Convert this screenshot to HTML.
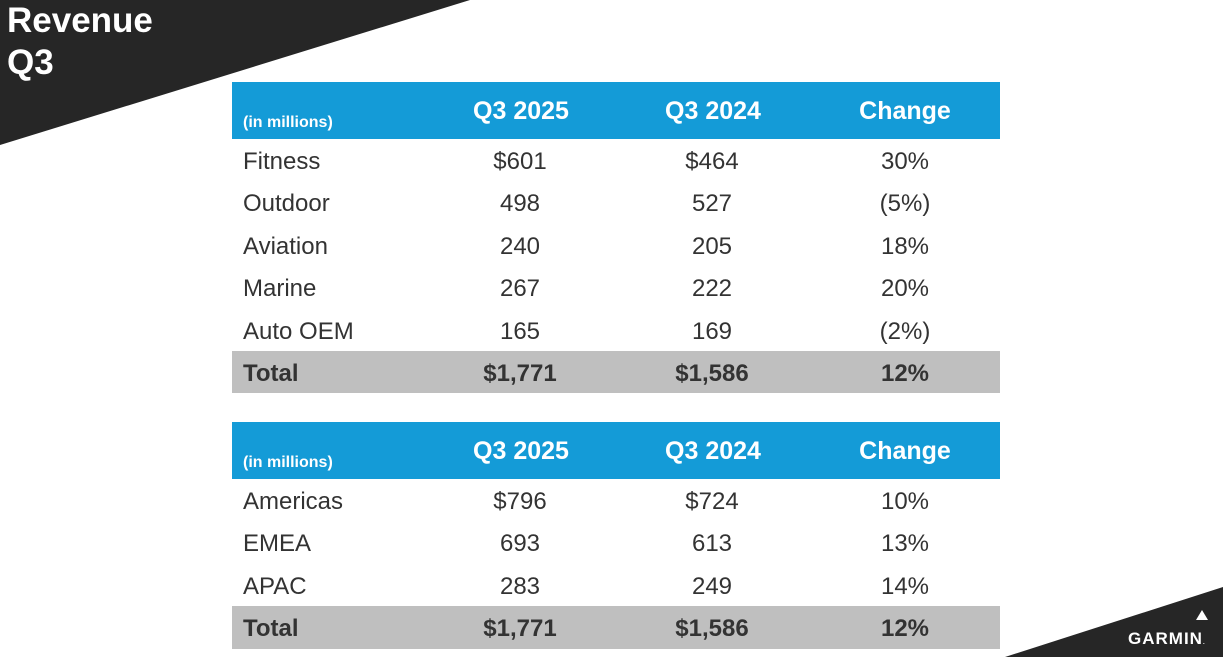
<!DOCTYPE html>
<html><head><meta charset="utf-8"><style>
body{margin:0;width:1223px;height:657px;overflow:hidden;background:#fff;font-family:"Liberation Sans",sans-serif;position:relative}
.abs{position:absolute}
.title{left:7px;top:0;color:#fff;font-weight:bold;font-size:35px;line-height:42px}
.tbl{position:absolute;left:232px;width:768px}
.hdr{background:#149bd7;height:57px;position:relative;color:#fff;font-weight:bold}
.row{height:42.4px;position:relative;color:#333;font-size:24px}
.tot{background:#bfbfbf;font-weight:bold}
.c{position:absolute;width:200px;text-align:center;transform:translateX(-100px)}
.l{position:absolute;left:11px}
</style></head><body>
<svg class="abs" style="left:0;top:0" width="1223" height="657">
<polygon points="0,0 470,0 0,145" fill="#262626"/>
<polygon points="1005,657 1223,587 1223,657" fill="#262626"/>
<polygon points="1196,620 1202,610 1208,620" fill="#fff"/>
</svg>
<div class="abs title">Revenue<br>Q3</div>
<div class="abs" style="left:1128px;top:629px;color:#fff;font-weight:bold;font-size:17px;letter-spacing:1px">GARMIN<span style="font-size:6px">.</span></div>

<div class="tbl" style="top:82px">
<div class="hdr">
<span class="l" style="top:32px;font-size:16px">(in millions)</span>
<span class="c" style="left:289px;top:15px;font-size:25px">Q3 2025</span>
<span class="c" style="left:481px;top:15px;font-size:25px">Q3 2024</span>
<span class="c" style="left:673px;top:15px;font-size:25px">Change</span></div>
<div id="t1"></div>
</div>
<div class="tbl" style="top:422px">
<div class="hdr">
<span class="l" style="top:32px;font-size:16px">(in millions)</span>
<span class="c" style="left:289px;top:15px;font-size:25px">Q3 2025</span>
<span class="c" style="left:481px;top:15px;font-size:25px">Q3 2024</span>
<span class="c" style="left:673px;top:15px;font-size:25px">Change</span></div>
<div id="t2"></div>
</div>
<script>
const segments=["Fitness","Outdoor","Aviation","Marine","Auto OEM","Total"];
const seg2025=["$601","498","240","267","165","$1,771"];
const seg2024=["$464","527","205","222","169","$1,586"];
const segChange=["30%","(5%)","18%","20%","(2%)","12%"];
const regions=["Americas","EMEA","APAC","Total"];
const reg2025=["$796","693","283","$1,771"];
const reg2024=["$724","613","249","$1,586"];
const regChange=["10%","13%","14%","12%"];
function build(id,labels,a,b,c){
  const host=document.getElementById(id);
  labels.forEach((lab,i)=>{
    const r=document.createElement('div');
    r.className='row'+(lab==='Total'?' tot':'');
    
    
    r.innerHTML='<span class="l" style="top:9px">'+lab+'</span>'+
      '<span class="c" style="left:288px;top:9px">'+a[i]+'</span>'+
      '<span class="c" style="left:480px;top:9px">'+b[i]+'</span>'+
      '<span class="c" style="left:673px;top:9px">'+c[i]+'</span>';
    host.appendChild(r);
  });
}
build('t1',segments,seg2025,seg2024,segChange);
build('t2',regions,reg2025,reg2024,regChange);
</script>
</body></html>
